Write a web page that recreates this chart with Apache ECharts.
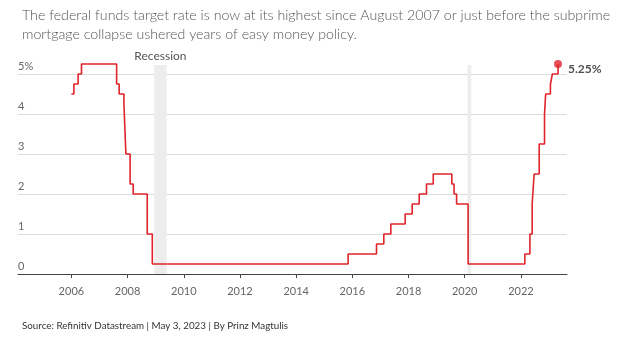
<!DOCTYPE html>
<html>
<head>
<meta charset="utf-8">
<script src="https://cdn.jsdelivr.net/npm/echarts@6/dist/echarts.min.js"></script>
<style>
html,body{margin:0;padding:0;background:#fff;}
#chart{width:620px;height:340px;}
</style>
</head>
<body>
<div id="chart"></div>
<script>
// Data (decimal years, upper bound of target rate, %)
var years = [2006.0, 2006.09, 2006.24, 2006.36, 2007.61, 2007.70, 2007.87, 2007.94, 2008.09, 2008.20, 2008.70, 2008.88,
  2015.85, 2016.86, 2017.12, 2017.37, 2017.88, 2018.13, 2018.38, 2018.64, 2018.88, 2019.54, 2019.62, 2019.71, 2020.12,
  2022.14, 2022.32, 2022.40, 2022.47, 2022.65, 2022.84, 2022.88, 2023.05, 2023.12, 2023.32];
var rates = [4.5, 4.75, 5.0, 5.25, 4.75, 4.5, 4.25, 3.0, 2.25, 2.0, 1.0, 0.25,
  0.5, 0.75, 1.0, 1.25, 1.5, 1.75, 2.0, 2.25, 2.5, 2.25, 2.0, 1.75, 0.25,
  0.5, 1.0, 1.75, 2.5, 3.25, 4.0, 4.5, 4.75, 5.0, 5.25];
var xTickYears = [2006, 2008, 2010, 2012, 2014, 2016, 2018, 2020, 2022];
var yTickLabels = ['0', '1', '2', '3', '4', '5%'];
var recessionStarts = [2008.95, 2020.10];
var recessionEnds = [2009.39, 2020.23];
var recessionLabels = ['Recession', ''];
var yMax = 5.225; // top of the plotting band (recession shading reaches it)

var titleText = 'The federal funds target rate is now at its highest since August 2007 or just before the subprime\nmortgage collapse ushered years of easy money policy.';
var sourceText = 'Source: Refinitiv Datastream | May 3, 2023 | By Prinz Magtulis';

var lineData = years.map(function (y, i) { return [y, rates[i]]; });
var last = lineData[lineData.length - 1];
var areas = recessionStarts.map(function (s, i) {
  return [{ xAxis: s, yAxis: 0, name: recessionLabels[i] }, { xAxis: recessionEnds[i], yAxis: yMax }];
});

var FONT = 'Lato';
var chart = echarts.init(document.getElementById('chart'), null, { renderer: 'canvas' });
chart.setOption({
  animation: false,
  backgroundColor: '#fff',
  title: [
    { text: titleText, left: 17, top: 1, textStyle: { fontFamily: FONT, fontSize: 14.2, fontWeight: 300, color: '#555', lineHeight: 19 } },
    { text: sourceText, left: 17, top: 316, textStyle: { fontFamily: FONT, fontSize: 9.8, fontWeight: 400, color: '#333' } }
  ],
  grid: { left: 18, right: 53, top: 65, bottom: 66 },
  xAxis: {
    type: 'value', min: 2004.1, max: 2023.64,
    splitLine: { show: false },
    axisLine: { show: true, lineStyle: { color: '#444', width: 1 } },
    axisTick: { show: true, length: 4, customValues: xTickYears, lineStyle: { color: '#444' } },
    axisLabel: { customValues: xTickYears, margin: 12, fontFamily: FONT, fontSize: 11, color: '#666', formatter: function (v) { return String(Math.round(v)); } }
  },
  yAxis: {
    type: 'value', min: 0, max: yMax, interval: 1,
    axisLine: { show: false }, axisTick: { show: false },
    splitLine: { show: true, showMaxLine: false, lineStyle: { color: '#dcdcdc', width: 1 } },
    axisLabel: {
      inside: true, margin: 0, verticalAlign: 'bottom', padding: [0, 0, 2, 0],
      fontFamily: FONT, fontSize: 11, color: '#666', showMaxLabel: false,
      formatter: function (v) { return Math.abs(v - Math.round(v)) < 1e-6 ? yTickLabels[Math.round(v)] : ''; }
    }
  },
  series: [
    {
      type: 'line', data: lineData, step: 'end', clip: false, showSymbol: false, symbol: 'none',
      lineStyle: { color: '#e0242c', width: 1.6 },
      markArea: {
        silent: true,
        itemStyle: { color: '#ededed' },
        label: { show: true, position: 'top', distance: 3, fontFamily: FONT, fontSize: 12, color: '#555', formatter: '{b}' },
        data: areas
      },
      z: 3
    },
    {
      type: 'scatter', data: [last], symbol: 'circle', symbolSize: 8, clip: false,
      itemStyle: { color: '#e0242c' },
      label: { show: true, position: 'right', distance: 6, offset: [0, 5], fontFamily: FONT, fontSize: 12, fontWeight: 'bold', color: '#222',
        formatter: function (p) { return p.value[1].toFixed(2) + '%'; } },
      z: 4
    }
  ]
});
</script>
</body>
</html>
